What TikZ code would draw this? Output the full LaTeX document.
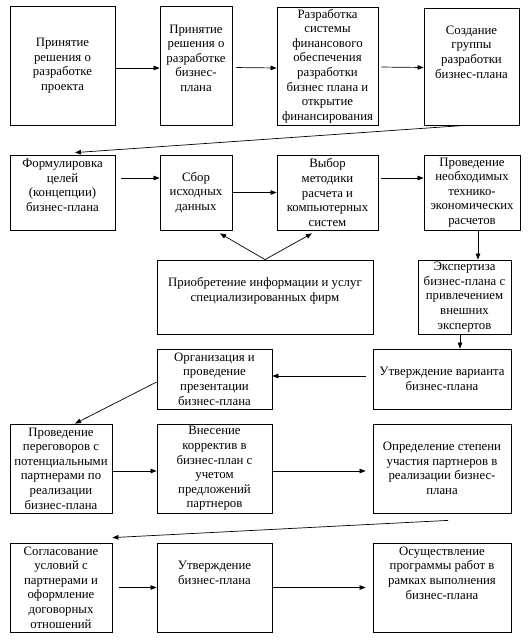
\documentclass[tikz,border=0pt]{standalone}
\usepackage{fontspec}
\setmainfont{Liberation Serif}
\usepackage{tikz}
\usetikzlibrary{positioning,arrows.meta,calc}

\begin{document}
\begin{tikzpicture}[
    x=1pt, y=-1pt,
    font=\fontsize{12.8}{14.6}\selectfont,
    box/.style ={draw, line width=0.8pt, align=center, inner sep=1pt},
    arr/.style ={draw, line width=0.7pt, -{Triangle[length=6pt,width=4.5pt]}}
]
\useasboundingbox (0,0) rectangle (531,644);

% --- Row 1 ---
\node[box, minimum width=105pt, minimum height=119pt] (a1) at (62.5, 65.5) {Принятие\\решения о\\разработке\\проекта};
\node[box, minimum width=72pt,  minimum height=119pt] (a2) at (196,  65.5) {Принятие\\решения о\\разработке\\бизнес-\\плана\\~};
\node[box, minimum width=101pt, minimum height=118pt] (a3) at (327.5, 66)  {Разработка\\системы\\финансового\\обеспечения\\разработки\\бизнес плана и\\открытие\\финансирования};
\node[box, minimum width=95pt,  minimum height=117pt] (a4) at (471.5, 66.5) {Создание\\группы\\разработки\\бизнес-плана\\~\\~};

% --- Row 2 ---
\node[box, minimum width=105pt, minimum height=75pt] (b1) at (62.5, 192.5) {Формулировка\\целей\\(концепции)\\бизнес-плана\\~};
\node[box, minimum width=72pt,  minimum height=75pt] (b2) at (196,  192.5) {Сбор\\исходных\\данных};
\node[box, minimum width=101pt, minimum height=75pt] (b3) at (327.5, 192.5) {Выбор\\методики\\расчета и\\компьютерных\\систем};
\node[box, minimum width=96pt,  minimum height=75pt] (b4) at (472,  192.5) {Проведение\\необходимых\\технико-\\экономических\\расчетов};

% --- Row 3 ---
\node[box, minimum width=216pt, minimum height=74pt] (c1) at (265,   297) {Приобретение информации и услуг\\специализированных фирм\\~};
\node[box, minimum width=93pt,  minimum height=74pt] (c2) at (464.5, 297) {Экспертиза\\бизнес-плана с\\привлечением\\внешних\\экспертов};

% --- Row 4 ---
\node[box, minimum width=115pt, minimum height=60pt] (d1) at (214.5, 379) {Организация и\\проведение\\презентации\\бизнес-плана};
\node[box, minimum width=138pt, minimum height=60pt] (d2) at (442,   379) {Утверждение варианта\\бизнес-плана};

% --- Row 5 ---
\node[box, minimum width=102pt, minimum height=89pt] (e1) at (61,    468.5) {Проведение\\переговоров с\\потенциальными\\партнерами по\\реализации\\бизнес-плана};
\node[box, minimum width=115pt, minimum height=89pt] (e2) at (214.5, 468.5) {Внесение\\корректив в\\бизнес-план с\\учетом\\предложений\\партнеров};
\node[box, minimum width=138pt, minimum height=89pt] (e3) at (442,   468.5) {Определение степени\\участия партнеров в\\реализации бизнес-\\плана};

% --- Row 6 ---
\node[box, minimum width=102pt, minimum height=89pt] (f1) at (61,    587.5) {Согласование\\условий с\\партнерами и\\оформление\\договорных\\отношений};
\node[box, minimum width=115pt, minimum height=89pt] (f2) at (214.5, 587.5) {Утверждение\\бизнес-плана\\~\\~};
\node[box, minimum width=138pt, minimum height=89pt] (f3) at (442,   587.5) {Осуществление\\программы работ в\\рамках выполнения\\бизнес-плана\\~\\~};

% --- Row 1 arrows ---
\draw[arr] ([yshift=-2.5pt]a1.east) -- ([yshift=-2.5pt]a2.west);
\draw[arr, shorten <=4pt] ([yshift=-2pt]a2.east) -- ([yshift=-2pt]a3.west);
\draw[arr, shorten <=3pt] ([yshift=-1pt]a3.east) -- ([yshift=-1pt]a4.west);
\draw[arr] ([xshift=-6.5pt]a4.south) -- ([xshift=12.5pt,yshift=2pt]b1.north);

% --- Row 2 arrows ---
\draw[arr, shorten <=6pt] ([yshift=14.5pt]b1.east) -- ([yshift=14.5pt]b2.west);
\draw[arr] (b2.east) -- (b3.west);
\draw[arr, shorten <=3pt] ([yshift=14.5pt]b3.east) -- ([yshift=14.5pt]b4.west);
\draw[arr] ([xshift=6pt]b4.south) -- ([xshift=6pt]b4.south |- c2.north);

% --- Information purchase feeds data and method ---
\draw[arr] (c1.north) -- ([xshift=24pt,yshift=-3pt]b2.south);
\draw[arr] (c1.north) -- ([xshift=-15.5pt,yshift=-3pt]b3.south);
\draw[arr] ([xshift=-4.5pt]c2.south) -- ([xshift=-4.5pt]c2.south |- d2.north);

% --- Row 4 arrows ---
\draw[arr, shorten <=7pt] ([yshift=3pt]d2.west) -- ([yshift=3pt]d1.east);
\draw[arr] ([yshift=-3pt]d1.west) -- ([xshift=14pt]e1.north);

% --- Row 5 arrows ---
\draw[arr] ([yshift=-2.5pt]e1.east) -- ([yshift=-2.5pt]e2.west);
\draw[arr, shorten >=7pt] ([yshift=-2.5pt]e2.east) -- ([yshift=-2.5pt]e3.west);
\draw[arr] ([xshift=6pt,yshift=-7pt]e3.south) -- ([yshift=5pt]f1.north east);

% --- Row 6 arrows ---
\draw[arr, shorten <=7pt] (f1.east) -- (f2.west);
\draw[arr, shorten >=7pt] (f2.east) -- (f3.west);

\end{tikzpicture}
\end{document}
